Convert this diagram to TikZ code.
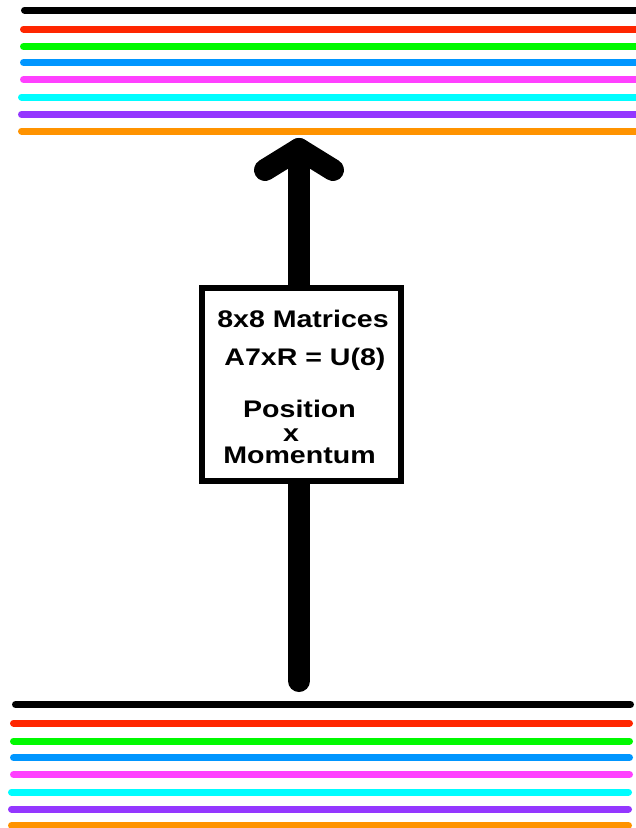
\documentclass[tikz,border=0pt]{standalone}
\usepackage{fontspec}
\newfontfamily\boxfont[FakeStretch=1.19]{Liberation Sans}
\definecolor{cRed}{HTML}{FF2600}
\definecolor{cGreen}{HTML}{00F900}
\definecolor{cBlue}{HTML}{0096FF}
\definecolor{cMagenta}{HTML}{FF40FF}
\definecolor{cCyan}{HTML}{00FDFF}
\definecolor{cPurple}{HTML}{9437FF}
\definecolor{cOrange}{HTML}{FF9300}
\tikzset{
  band/.style={line width=7pt, line cap=round},
  bigarrow/.style={line width=22pt, line cap=round, line join=round, black},
  boxstyle/.style={draw=black, line width=6pt, fill=white, minimum width=199pt, minimum height=193pt, inner sep=0pt},
  boxtext/.style={anchor=base, inner sep=0pt, font=\boxfont\bfseries\fontsize{24}{28}\selectfont}
}
\begin{document}
\begin{tikzpicture}[x=1pt,y=-1pt]
\useasboundingbox (0,0) rectangle (636,828);
% top bands
\draw[band, black]    (24.5,10)  -- (645,10);
\draw[band, cRed]     (23.5,29)  -- (645,29);
\draw[band, cGreen]   (23.5,46.5) -- (645,46.5);
\draw[band, cBlue]    (23.5,62.5) -- (645,62.5);
\draw[band, cMagenta] (23.5,79.5) -- (645,79.5);
\draw[band, cCyan]    (21.5,97)  -- (645,97);
\draw[band, cPurple]  (21.5,114.5) -- (645,114.5);
\draw[band, cOrange]  (21.5,131) -- (645,131);
% bottom bands
\draw[band, black]    (15.5,704.5) -- (630.5,704.5);
\draw[band, cRed]     (13.5,723) -- (629.5,723);
\draw[band, cGreen]   (13.5,741) -- (629.5,741);
\draw[band, cBlue]    (13.5,757.5) -- (629.5,757.5);
\draw[band, cMagenta] (13.5,774.5) -- (629.5,774.5);
\draw[band, cCyan]    (11.5,792) -- (628.5,792);
\draw[band, cPurple]  (11.5,809) -- (628.5,809);
\draw[band, cOrange]  (11.5,825.5) -- (628.5,825.5);
% arrow
\coordinate (tail) at (299,681);
\coordinate (tip) at (299,149);
\coordinate (armL) at (265,170);
\coordinate (armR) at (333,170);
\draw[bigarrow] (tail) -- (tip);
\draw[bigarrow] (armL) -- (tip) -- (armR);
% box
\node[boxstyle] (box) at (301.5,384.5) {};
\node[boxtext] (t1) at (303,327) {8x8 Matrices};
\node[boxtext] (t2) at (305,365) {A7xR = U(8)};
\node[boxtext] (t3) at (299.5,417) {Position};
\node[boxtext] (t4) at (291,441) {x};
\node[boxtext] (t5) at (299.5,463.5) {Momentum};
\end{tikzpicture}
\end{document}
